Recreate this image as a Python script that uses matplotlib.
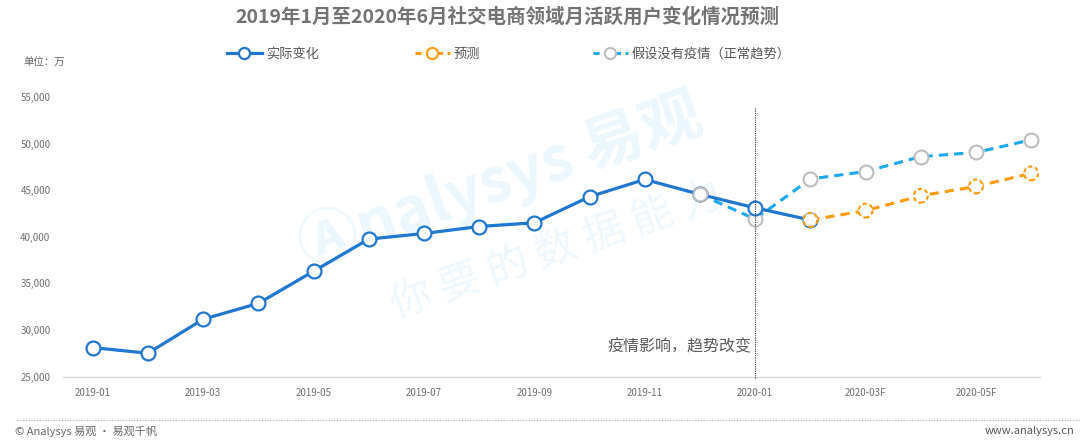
import matplotlib
matplotlib.use("Agg")
import matplotlib.pyplot as plt
from matplotlib.lines import Line2D

plt.rcParams['font.family'] = ['Noto Sans CJK SC', 'DejaVu Sans']

# ---- data ----
months = ['2019-01', '2019-02', '2019-03', '2019-04', '2019-05', '2019-06',
          '2019-07', '2019-08', '2019-09', '2019-10', '2019-11', '2019-12',
          '2020-01', '2020-02F', '2020-03F', '2020-04F', '2020-05F', '2020-06F']
tick_labels = ['2019-01', '', '2019-03', '', '2019-05', '', '2019-07', '', '2019-09', '',
               '2019-11', '', '2020-01', '', '2020-03F', '', '2020-05F', '']
actual = [28100, 27500, 31150, 32850, 36300, 39750, 40350, 41100, 41500,
          44300, 46150, 44550, 43100, 41800]            # 2019-01 .. 2020-02
forecast = [41800, 42800, 44400, 45400, 46800]           # 2020-02 .. 2020-06
no_covid = [44550, 41900, 46200, 47000, 48600, 49050, 50400]  # 2019-12 .. 2020-06
legend_labels = ['实际变化', '预测', '假设没有疫情（正常趋势）']

x_actual = list(range(0, len(actual)))
x_forecast = list(range(13, 13 + len(forecast)))
x_nocovid = list(range(11, 11 + len(no_covid)))

c_actual = '#1f77d0'
c_fore = '#ff9a0a'
c_nocov = '#1aa8f0'
c_gray = '#bdbdbd'

fig = plt.figure(figsize=(10.8, 4.45), dpi=100)
ax = fig.add_axes([63/1080, 1-376.5/445, (1040-63)/1080, (376.5-97)/445])

# watermark
ax.text(0.447, 0.70, 'Ⓐnalysys 易观', transform=ax.transAxes, fontsize=44,
        fontweight='bold', color='#ebf6fd', rotation=19, ha='center', va='center', zorder=0)
ax.text(0.505, 0.45, '你 要 的 数 据 能 力', transform=ax.transAxes, fontsize=30,
        color='#eef7fd', rotation=19, ha='center', va='center', zorder=0)

# no-covid (light blue dashed, gray markers)
ax.plot(x_nocovid, no_covid, color=c_nocov, lw=2.2, ls=(0, (3, 2)), zorder=2,
        marker='o', ms=10, mfc='white', mec=c_gray, mew=1.5)
# actual
ax.plot(x_actual, actual, color=c_actual, lw=2.3, zorder=3,
        marker='o', ms=10, mfc='white', mec=c_actual, mew=1.6)
# redraw the shared 2019-12 marker of the no-covid series on top
ax.plot(x_nocovid[0], no_covid[0], ls='none', marker='o', ms=10, mfc='white',
        mec=c_gray, mew=1.5, zorder=4)
# forecast
ax.plot(x_forecast, forecast, color=c_fore, lw=2.2, ls=(0, (3, 2)), zorder=4)
ax.scatter(x_forecast, forecast, s=100, facecolors='white', edgecolors=c_fore,
           linewidths=1.5, linestyles=(0, (2, 1.3)), zorder=5)

# vertical dotted marker line at 2020-01
ax.axvline(12, ymin=-0.006, ymax=0.96, color='#333333', ls=(0, (1, 1)), lw=0.8,
           zorder=6, clip_on=False)
ax.text(11.93, 28150, '疫情影响，趋势改变', ha='right', va='center', fontsize=11.5,
        color='#5a5a5a', zorder=6)

ax.set_xlim(-0.54, 17.16)
ax.set_ylim(25000, 55000)
yt = [25000, 30000, 35000, 40000, 45000, 50000, 55000]
ax.set_yticks(yt)
ax.set_yticklabels([f'{v:,}' for v in yt])
ax.set_xticks(range(len(months)))
ax.set_xticklabels(tick_labels)
ax.tick_params(axis='both', length=0, labelsize=7, labelcolor='#6e6e6e')
ax.tick_params(axis='y', pad=9)
ax.tick_params(axis='x', pad=8)
for s in ['top', 'right', 'left']:
    ax.spines[s].set_visible(False)
ax.spines['bottom'].set_color('#d9d9d9')
ax.spines['bottom'].set_linewidth(1)

# legend (three single-entry legends placed like the reference)
handles = [
    Line2D([], [], color=c_actual, lw=2.3, marker='o', ms=8, mfc='white', mec=c_actual, mew=1.6),
    Line2D([], [], color=c_fore, lw=2.2, ls=(0, (2, 1.5)), marker='o', ms=8, mfc='white', mec=c_fore, mew=1.5),
    Line2D([], [], color=c_nocov, lw=2.2, ls=(0, (2, 1.5)), marker='o', ms=8, mfc='white', mec=c_gray, mew=1.5),
]
for h, lab, xpix in zip(handles, legend_labels, [215, 403, 581]):
    leg = fig.legend([h], [lab], loc='center left', bbox_to_anchor=(xpix/1080, 1-54/445),
                     frameon=False, fontsize=9.5, handlelength=2.65, handletextpad=0.3)
    for t in leg.get_texts():
        t.set_color('#555555')

# title & notes
fig.text(507/1080, 1-17/445, '2019年1月至2020年6月社交电商领域月活跃用户变化情况预测',
         ha='center', va='center', fontsize=14, fontweight='bold', color='#737373')
fig.text(23/1080, 1-62/445, '单位：万', ha='left', va='center', fontsize=7.5, color='#666666')

# footer
fig.add_artist(Line2D([17/1080, 1.0], [1-420/445, 1-420/445], color='#aaaaaa', lw=0.8,
                      ls=(0, (1, 1.5))))
fig.text(15/1080, 1-431/445, '© Analysys 易观 · 易观千帆', ha='left', va='center',
         fontsize=8, color='#666666')
fig.text(1074/1080, 1-431/445, 'www.analysys.cn', ha='right', va='center',
         fontsize=8, color='#555555')

fig.savefig('out.png', dpi=100)
